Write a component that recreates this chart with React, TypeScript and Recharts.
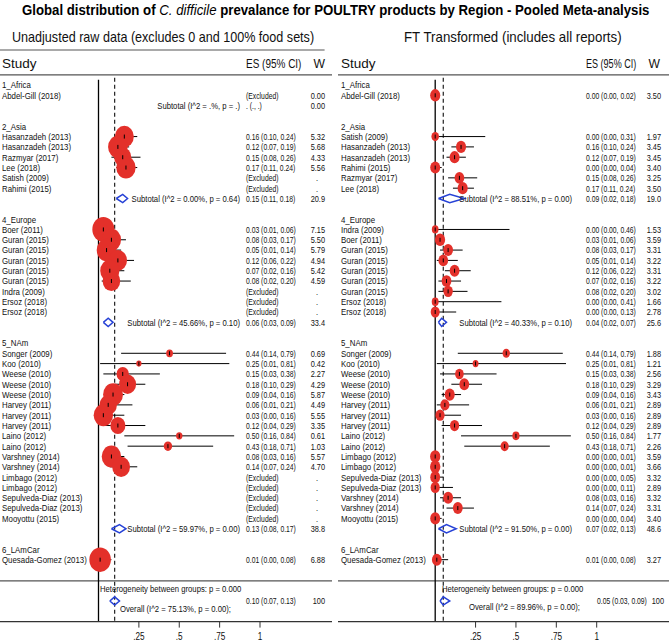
import React from 'react';
import { ComposedChart, Scatter, XAxis, YAxis, ReferenceLine, ErrorBar } from 'recharts';

const FONT = "'Liberation Sans', Arial, Helvetica, sans-serif";
const RED = '#e3302a';
const BLUE = '#2742d6';
const SQUEEZE = 0.82;

const groups = ['1_Africa', '2_Asia', '4_Europe', '5_NAm', '6_LAmCar'];
const tickVals = [0.25, 0.5, 0.75, 1];
const tickLabels = ['.25', '.5', '.75', '1'];

// ---- Unadjusted raw data (left panel) ----
const rawGroup = [0, 1, 1, 1, 1, 1, 1, 2, 2, 2, 2, 2, 2, 2, 2, 2, 3, 3, 3, 3, 3, 3, 3, 3, 3, 3, 3, 3, 3, 3, 3, 3, 3, 4];
const rawNames = [
  'Abdel-Gill  (2018)',
  'Hasanzadeh (2013)', 'Hasanzadeh (2013)', 'Razmyar (2017)', 'Lee  (2018)', 'Satish (2009)', 'Rahimi (2015)',
  'Boer (2011)', 'Guran (2015)', 'Guran (2015)', 'Guran (2015)', 'Guran (2015)', 'Guran (2015)', 'Indra (2009)', 'Ersoz (2018)', 'Ersoz (2018)',
  'Songer (2009)', 'Koo (2010)', 'Weese (2010)', 'Weese (2010)', 'Weese (2010)', 'Harvey (2011)', 'Harvey (2011)', 'Harvey (2011)',
  'Laino (2012)', 'Laino (2012)', 'Varshney (2014)', 'Varshney (2014)', 'Limbago (2012)', 'Limbago (2012)',
  'Sepulveda-Diaz (2013)', 'Sepulveda-Diaz (2013)', 'Mooyottu (2015)',
  'Quesada-Gomez (2013)',
];
const rawES = [null, 0.16, 0.12, 0.15, 0.17, null, null, 0.03, 0.08, 0.05, 0.12, 0.07, 0.08, null, null, null,
  0.44, 0.25, 0.15, 0.18, 0.09, 0.06, 0.03, 0.12, 0.50, 0.43, 0.08, 0.14, null, null, null, null, null, 0.01];
const rawLo = [null, 0.10, 0.07, 0.08, 0.11, null, null, 0.01, 0.03, 0.01, 0.06, 0.02, 0.02, null, null, null,
  0.14, 0.01, 0.03, 0.10, 0.04, 0.01, 0.00, 0.04, 0.16, 0.18, 0.03, 0.07, null, null, null, null, null, 0.00];
const rawHi = [null, 0.24, 0.19, 0.26, 0.24, null, null, 0.06, 0.17, 0.14, 0.22, 0.16, 0.20, null, null, null,
  0.79, 0.81, 0.38, 0.29, 0.16, 0.21, 0.16, 0.29, 0.84, 0.71, 0.16, 0.24, null, null, null, null, null, 0.08];
const rawW = [0, 5.32, 5.68, 4.33, 5.56, null, null, 7.15, 5.50, 5.79, 4.94, 5.42, 4.59, null, null, null,
  0.69, 0.42, 2.27, 4.29, 5.87, 4.49, 5.55, 3.35, 0.61, 1.03, 5.57, 4.70, null, null, null, null, null, 6.88];
const rawSubES = [null, 0.15, 0.06, 0.13, null];
const rawSubLo = [null, 0.11, 0.03, 0.08, null];
const rawSubHi = [null, 0.18, 0.09, 0.17, null];
const rawSubW = [0, 20.9, 33.4, 38.8, null];
const rawSubHet = ['(I^2 = .%, p = .)', '(I^2 = 0.00%, p = 0.64)', '(I^2 = 45.66%, p = 0.10)', '(I^2 = 59.97%, p = 0.00)', null];
const rawOverall = [0.10, 0.07, 0.13];
const rawOverallHet = '(I^2 = 75.13%, p = 0.00);';

// ---- FT transformed (right panel) ----
const ftGroup = [0, 1, 1, 1, 1, 1, 1, 2, 2, 2, 2, 2, 2, 2, 2, 2, 3, 3, 3, 3, 3, 3, 3, 3, 3, 3, 3, 3, 3, 3, 3, 3, 3, 4];
const ftNames = [
  'Abdel-Gill  (2018)',
  'Satish (2009)', 'Hasanzadeh (2013)', 'Hasanzadeh (2013)', 'Rahimi (2015)', 'Razmyar (2017)', 'Lee  (2018)',
  'Indra (2009)', 'Boer (2011)', 'Guran (2015)', 'Guran (2015)', 'Guran (2015)', 'Guran (2015)', 'Guran (2015)', 'Ersoz (2018)', 'Ersoz (2018)',
  'Songer (2009)', 'Koo (2010)', 'Weese (2010)', 'Weese (2010)', 'Weese (2010)', 'Harvey (2011)', 'Harvey (2011)', 'Harvey (2011)',
  'Laino (2012)', 'Laino (2012)', 'Limbago (2012)', 'Limbago (2012)', 'Sepulveda-Diaz (2013)', 'Sepulveda-Diaz (2013)',
  'Varshney (2014)', 'Varshney (2014)', 'Mooyottu (2015)',
  'Quesada-Gomez (2013)',
];
const ftES = [0.00, 0.00, 0.16, 0.12, 0.00, 0.15, 0.17, 0.00, 0.03, 0.08, 0.05, 0.12, 0.07, 0.08, 0.00, 0.00,
  0.44, 0.25, 0.15, 0.18, 0.09, 0.06, 0.03, 0.12, 0.50, 0.43, 0.00, 0.00, 0.00, 0.00, 0.08, 0.14, 0.00, 0.01];
const ftLo = [0.00, 0.00, 0.10, 0.07, 0.00, 0.08, 0.11, 0.00, 0.01, 0.03, 0.01, 0.06, 0.02, 0.02, 0.00, 0.00,
  0.14, 0.01, 0.03, 0.10, 0.04, 0.01, 0.00, 0.04, 0.16, 0.18, 0.00, 0.00, 0.00, 0.00, 0.03, 0.07, 0.00, 0.00];
const ftHi = [0.02, 0.31, 0.24, 0.19, 0.04, 0.26, 0.24, 0.46, 0.06, 0.17, 0.14, 0.22, 0.16, 0.20, 0.41, 0.13,
  0.79, 0.81, 0.38, 0.29, 0.16, 0.21, 0.16, 0.29, 0.84, 0.71, 0.01, 0.01, 0.05, 0.11, 0.16, 0.24, 0.04, 0.08];
const ftW = [3.50, 1.97, 3.45, 3.45, 3.40, 3.25, 3.50, 1.53, 3.59, 3.31, 3.22, 3.31, 3.22, 3.02, 1.66, 2.78,
  1.88, 1.21, 2.56, 3.29, 3.43, 2.89, 2.89, 2.89, 1.77, 2.26, 3.59, 3.66, 3.32, 2.89, 3.32, 3.31, 3.40, 3.27];
const ftSubES = [null, 0.09, 0.04, 0.07, null];
const ftSubLo = [null, 0.02, 0.02, 0.02, null];
const ftSubHi = [null, 0.18, 0.07, 0.13, null];
const ftSubW = [null, 19.0, 25.6, 48.6, null];
const ftSubHet = [null, '(I^2 = 88.51%, p = 0.00)', '(I^2 = 40.33%, p = 0.10)', '(I^2 = 91.50%, p = 0.00)', null];
const ftOverall = [0.05, 0.03, 0.09];
const ftOverallHet = '(I^2 = 89.96%, p = 0.00);';

const hetText = 'Heterogeneity between groups: p = 0.000';

// layout
const PX_PER_UNIT = 161.5;
const ROW_MIN = -4;
const ROW_MAX = 52;
const TOP = 43.7;
const AXIS_H = 20.4;
const H = 642;

const fmt2 = (v: number) => v.toFixed(2);
const fmtW = (v: number) => (v >= 100 ? v.toFixed(0) : v >= 10 ? v.toFixed(1) : v.toFixed(2));
const ci = (es: number, lo: number, hi: number) => `${fmt2(es)} (${fmt2(lo)}, ${fmt2(hi)})`;

// text drawn narrow, like the condensed font of the original
const T = ({ x, y, size = 9.6, anchor = 'start', sx = SQUEEZE, weight, fill = '#111', children }: any) => (
  <text
    transform={`translate(${x},${y}) scale(${sx},1)`}
    fontSize={size}
    fontWeight={weight}
    textAnchor={anchor}
    fontFamily={FONT}
    fill={fill}
  >
    {children}
  </text>
);

function buildRows(p: any) {
  const text: any[] = [];
  const studies: any[] = [];
  const subs: any[] = [];
  let r = 0;
  groups.forEach((g, gi) => {
    text.push({ y: r, label: g });
    r++;
    p.group.forEach((sg: number, i: number) => {
      if (sg !== gi) return;
      const es = p.es[i];
      text.push({
        y: r,
        label: p.names[i],
        es: es == null ? '(Excluded)' : ci(es, p.lo[i], p.hi[i]),
        w: p.w[i] == null ? '.' : fmtW(p.w[i]),
      });
      if (es != null) {
        studies.push({ x: es, y: r, w: p.w[i], err: [es - p.lo[i], p.hi[i] - es] });
      }
      r++;
    });
    if (p.subHet[gi]) {
      const es = p.subES[gi];
      text.push({
        y: r,
        sub: `Subtotal  ${p.subHet[gi]}`,
        es: es == null ? '. (., .)' : ci(es, p.subLo[gi], p.subHi[gi]),
        w: fmtW(p.subW[gi]),
      });
      if (es != null) subs.push({ es, lo: p.subLo[gi], hi: p.subHi[gi], y: r });
    }
    r += 2;
  });
  return { text, studies, subs };
}

const diamond = (d: any) => [
  { x: d.lo, y: d.y },
  { x: d.es, y: d.y - 0.4 },
  { x: d.hi, y: d.y },
  { x: d.es, y: d.y + 0.4 },
  { x: d.lo, y: d.y },
];

const AxisTick = ({ x, y, payload }: any) => (
  <T x={x} y={y + 10} size={10} anchor="middle">
    {tickLabels[tickVals.indexOf(payload.value)]}
  </T>
);

function Panel({ left, width, zeroPx, data, cols, k, ratio, overall, overallHet, overallRow }: any) {
  const domain = [-zeroPx / PX_PER_UNIT, (width - zeroPx) / PX_PER_UNIT];
  const { text, studies, subs } = buildRows(data);
  const footer = [
    { y: 48.8, free: hetText, fx: cols.het },
    { y: overallRow, free: `Overall  ${overallHet}`, fx: cols.overall },
    { y: 50, es: ci(overall[0], overall[1], overall[2]), w: '100', esx: cols.overallEs, wx: cols.overallW },
  ];
  const rows = [...text, ...footer].map((t) => ({ ...t, x: domain[0] }));

  const tableShape = (props: any) => {
    const { cx, cy, payload } = props;
    const b = cy + 3.4;
    const wx = payload.wx ?? (payload.w === '.' ? cols.dot : cols.w);
    return (
      <g>
        {payload.label && <T x={cx + cols.label} y={b}>{payload.label}</T>}
        {payload.sub && <T x={cx + cols.sub} y={b} anchor="end" size={9.4}>{payload.sub}</T>}
        {payload.free && <T x={cx + payload.fx} y={b} size={9.4}>{payload.free}</T>}
        {payload.es && <T x={cx + (payload.esx ?? cols.es)} y={b} size={8.3}>{payload.es}</T>}
        {payload.w && <T x={cx + wx} y={b} size={9} anchor="end">{payload.w}</T>}
      </g>
    );
  };

  const circleShape = (props: any) => {
    const { cx, cy, payload } = props;
    const ry = k * Math.sqrt(payload.w);
    return <ellipse cx={cx} cy={cy} rx={ry * ratio} ry={ry} fill={RED} />;
  };

  const centerShape = (props: any) => {
    const { cx, cy } = props;
    return <line x1={cx} x2={cx} y1={cy - 2} y2={cy + 2} stroke="#000" strokeWidth={1} />;
  };

  const allDiamonds = [...subs, { es: overall[0], lo: overall[1], hi: overall[2], y: 50 }];

  return (
    <div style={{ position: 'absolute', left, top: 0 }}>
      <ComposedChart width={width} height={H} margin={{ top: TOP, right: 0, bottom: 0, left: 0 }}>
        <XAxis
          type="number"
          dataKey="x"
          domain={domain}
          allowDataOverflow
          ticks={tickVals}
          interval={0}
          height={AXIS_H}
          tickSize={6}
          tick={(p: any) => <AxisTick {...p} />}
          axisLine={{ stroke: '#333', strokeWidth: 1.2 }}
          tickLine={{ stroke: '#333' }}
        />
        <YAxis type="number" dataKey="y" domain={[ROW_MIN, ROW_MAX]} reversed hide allowDataOverflow />
        <ReferenceLine
          segment={[{ x: domain[0], y: -3.39 }, { x: cols.topLineEnd, y: -3.39 }]}
          stroke="#555"
          strokeWidth={1.2}
        />
        <ReferenceLine y={-0.97} stroke="#555" strokeWidth={1.2} />
        <ReferenceLine y={48.06} stroke="#555" strokeWidth={1.2} />
        <ReferenceLine segment={[{ x: 0, y: -0.5 }, { x: 0, y: ROW_MAX }]} stroke="#000" strokeWidth={1.3} />
        <ReferenceLine
          segment={[{ x: overall[0], y: -0.7 }, { x: overall[0], y: ROW_MAX }]}
          stroke="#222"
          strokeWidth={1.2}
          strokeDasharray="4 3"
        />
        <Scatter data={studies} shape={circleShape} isAnimationActive={false} />
        <Scatter data={studies} shape={centerShape} isAnimationActive={false}>
          <ErrorBar dataKey="err" direction="x" width={0} stroke="#000" strokeWidth={1} isAnimationActive={false} />
        </Scatter>
        {allDiamonds.map((d, i) => (
          <Scatter
            key={i}
            data={diamond(d)}
            line={{ stroke: BLUE, strokeWidth: 1.5 }}
            lineType="joint"
            shape={() => <g />}
            isAnimationActive={false}
          />
        ))}
        <Scatter data={rows} shape={tableShape} isAnimationActive={false} />
      </ComposedChart>
    </div>
  );
}

export default function App() {
  const raw = {
    group: rawGroup, names: rawNames, es: rawES, lo: rawLo, hi: rawHi, w: rawW,
    subES: rawSubES, subLo: rawSubLo, subHi: rawSubHi, subW: rawSubW, subHet: rawSubHet,
  };
  const ft = {
    group: ftGroup, names: ftNames, es: ftES, lo: ftLo, hi: ftHi, w: ftW,
    subES: ftSubES, subLo: ftSubLo, subHi: ftSubHi, subW: ftSubW, subHet: ftSubHet,
  };
  return (
    <div style={{ position: 'absolute', left: 0, top: 0, width: 669, height: 642, background: '#fff' }}>
      <Panel
        left={0}
        width={332}
        zeroPx={98.5}
        data={raw}
        cols={{ label: 2, sub: 240, es: 246, w: 325, dot: 318, het: 100, overall: 120, overallEs: 246, overallW: 325, topLineEnd: 1.4 }}
        k={4.67}
        ratio={0.88}
        overall={rawOverall}
        overallHet={rawOverallHet}
        overallRow={50.75}
      />
      <Panel
        left={338}
        width={331}
        zeroPx={97.2}
        data={ft}
        cols={{ label: 3, sub: 234, es: 248, w: 323, dot: 318, het: 104, overall: 131, overallEs: 259, overallW: 326, topLineEnd: 1.45 }}
        k={3.3}
        ratio={0.82}
        overall={ftOverall}
        overallHet={ftOverallHet}
        overallRow={50.5}
      />
      <svg width={669} height={80} style={{ position: 'absolute', left: 0, top: 0 }}>
        <T x={22} y={15} size={14} sx={0.944} weight="bold" fill="#000">
          Global distribution of <tspan fontStyle="italic" fontWeight="normal">C. difficile</tspan> prevalance for POULTRY products by Region - Pooled Meta-analysis
        </T>
        <T x={12} y={42} size={14} sx={0.9}>Unadjusted raw data (excludes 0 and 100% food sets)</T>
        <T x={404} y={42} size={14} sx={0.95}>FT Transformed (includes all reports)</T>
        <T x={2} y={68} size={13.5} sx={1}>Study</T>
        <T x={246} y={68} size={13.5} sx={0.74}>ES (95% CI)</T>
        <T x={325} y={68} size={13.5} sx={0.9} anchor="end">W</T>
        <T x={341} y={68} size={13.5} sx={1}>Study</T>
        <T x={586} y={68} size={13.5} sx={0.67}>ES (95% CI)</T>
        <T x={660} y={68} size={13.5} sx={0.9} anchor="end">W</T>
      </svg>
    </div>
  );
}
